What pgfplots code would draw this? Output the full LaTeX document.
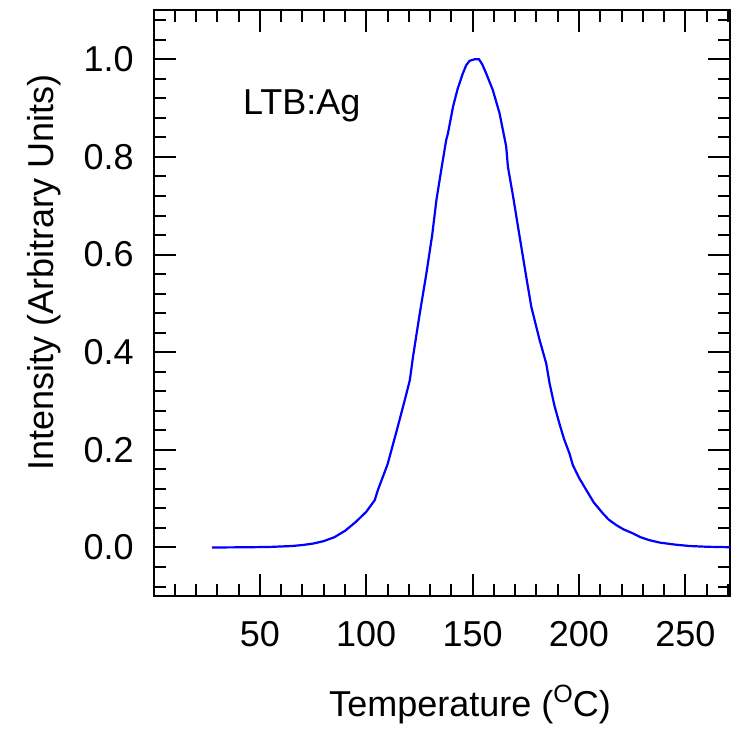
\documentclass[border=0pt]{standalone}
\usepackage{fontspec}
\setmainfont{Liberation Sans}
\usepackage{pgfplots}
\pgfplotsset{compat=1.18}

\begin{document}
\begin{tikzpicture}
\begin{axis}[
  scale only axis, width=288.25pt, height=292.9pt,
  xmin=0, xmax=271, ymin=-0.1, ymax=1.1,
  axis line style={line width=1pt},
  tick style={line width=1pt, black},
  tick align=inside,
  major tick length=11pt, minor tick length=6pt,
  xtick={50,100,...,250},
  minor xtick={10,20,...,270},
  ytick={0,0.2,0.4,0.6,0.8,1.0},
  minor ytick={-0.08,-0.04,0.04,0.08,0.12,0.16,0.24,0.28,0.32,0.36,0.44,0.48,0.52,0.56,0.64,0.68,0.72,0.76,0.84,0.88,0.92,0.96,1.04,1.08},
  font=\fontsize{18pt}{21pt}\selectfont,
  /pgf/number format/assume math mode=true,
  yticklabel style={/pgf/number format/fixed, /pgf/number format/fixed zerofill, /pgf/number format/precision=1,
    anchor=east, inner sep=0pt, xshift=-9.75pt},
  xticklabel style={anchor=base, inner sep=0pt, yshift=-25.2pt},
  xlabel={Temperature (\raisebox{7pt}{\fontsize{12.5pt}{12.5pt}\selectfont O}C)},
  ylabel={Intensity (Arbitrary Units)},
  xlabel style={at={(axis description cs:0.549,0)}, anchor=base, inner sep=0pt, yshift=-60.2pt},
  ylabel style={at={(axis description cs:0,0.552)}, anchor=base, inner sep=0pt, yshift=50pt},
  clip=false,
]
\addplot[color={rgb,255:red,0;green,0;blue,255}, line width=1.1pt] coordinates {
(27.5,0) (35,0.0002) (45,0.0005) (55,0.0012) (65,0.003) (70,0.005) (75,0.008)
(80,0.013) (85,0.021) (90,0.034) (95,0.052) (100,0.073) (104,0.097) (105.5,0.118)
(110,0.17) (114,0.234) (118,0.3) (120.5,0.343) (122,0.391) (125,0.475)
(128.3,0.562) (131,0.64) (133,0.712) (135.5,0.78) (137.6,0.835) (138.4,0.848)
(140.8,0.903) (143,0.94) (145.4,0.971) (147,0.988) (148.6,0.997) (150.9,1.0)
(153,1.0) (154.5,0.99) (156.4,0.971) (159.5,0.937) (162.7,0.889) (165.8,0.821)
(166.6,0.78) (169,0.72) (172.1,0.637) (175,0.56) (177.6,0.493) (181.5,0.425)
(184.6,0.377) (186.2,0.336) (188.5,0.29) (190.8,0.254) (193,0.222) (195.5,0.193)
(197.1,0.169) (200,0.143) (203.4,0.118) (207,0.092) (211.2,0.07) (214,0.057)
(217.5,0.046) (221,0.037) (225.3,0.029) (229,0.021) (233.1,0.015) (238,0.010)
(245,0.006) (252,0.003) (260,0.0015) (271,0.0005)
};
\node[anchor=base west, inner sep=0pt] at (axis cs:41.9,0.886) {LTB:Ag};
\end{axis}
\pgfresetboundingbox
\useasboundingbox (-76.75pt,-65.85pt) rectangle (288.75pt,298.15pt);
\end{tikzpicture}
\end{document}
